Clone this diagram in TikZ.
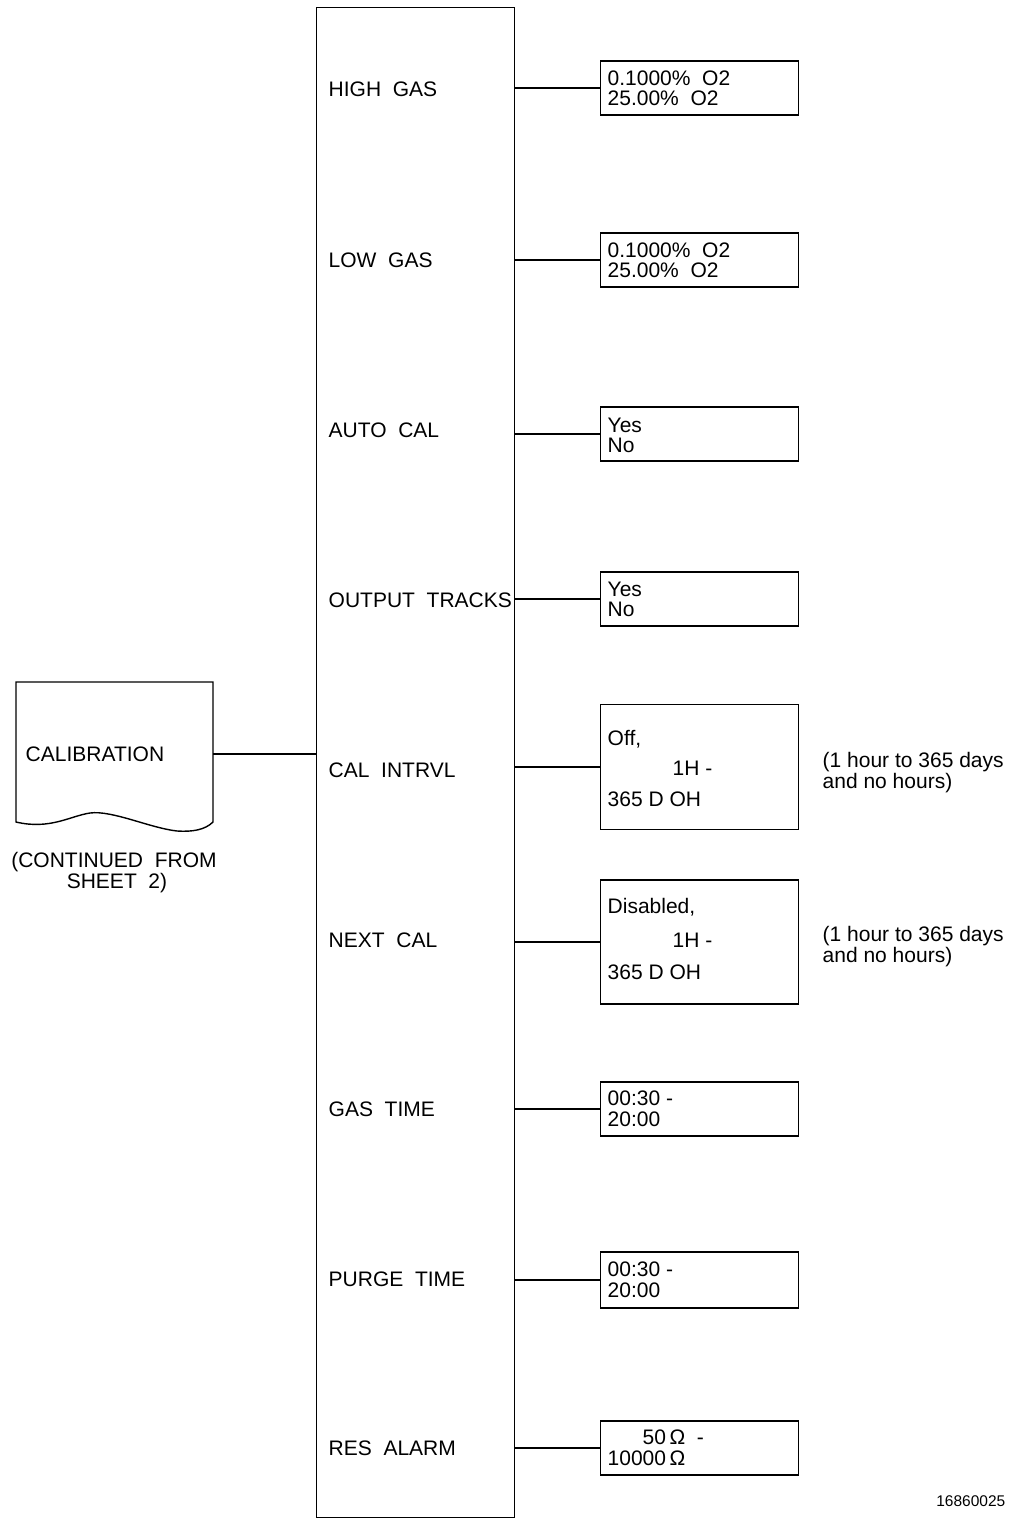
\documentclass[tikz,border=0pt]{standalone}
\usepackage{fontspec}
\setmainfont{Liberation Sans}
\begin{document}
\begin{tikzpicture}[x=1pt,y=-1pt,line width=1.4pt,
  vbox/.style={draw,minimum width=198pt,minimum height=#1,inner sep=0pt,anchor=west},
  txt/.style={inner sep=0pt,anchor=base west,font=\fontsize{21}{21}\selectfont},
  ctxt/.style={inner sep=0pt,anchor=base,font=\fontsize{21}{21}\selectfont},
  small/.style={inner sep=0pt,anchor=base east,font=\fontsize{15.5}{15.5}\selectfont},
  conn/.style={draw,line width=1.4pt}]
\useasboundingbox (0,0) rectangle (1010,1518);

% main menu box
\node[draw,minimum width=198pt,minimum height=1510pt,inner sep=0pt,anchor=north west] (menu) at (316,7) {};

% labels
\node[txt] (l1) at (328,96) {HIGH\ \ GAS};
\node[txt] (l2) at (328,267) {LOW\ \ GAS};
\node[txt] (l3) at (328,437) {AUTO\ \ CAL};
\node[txt] (l4) at (328,607) {OUTPUT\ \ TRACKS};
\node[txt] (l5) at (328,777) {CAL\ \ INTRVL};
\node[txt] (l6) at (328,947) {NEXT\ \ CAL};
\node[txt] (l7) at (328,1116) {GAS\ \ TIME};
\node[txt] (l8) at (328,1286) {PURGE\ \ TIME};
\node[txt] (l9) at (328,1455) {RES\ \ ALARM};

% value boxes
\node[vbox=54pt] (v1) at (600,88) {};
\node[vbox=54pt] (v2) at (600,260) {};
\node[vbox=54pt] (v3) at (600,434) {};
\node[vbox=54pt] (v4) at (600,599) {};
\node[vbox=125pt] (v5) at (600,767) {};
\node[vbox=124pt] (v6) at (600,942) {};
\node[vbox=54pt] (v7) at (600,1109) {};
\node[vbox=56pt] (v8) at (600,1280) {};
\node[vbox=54pt] (v9) at (600,1448) {};

% value texts
\node[txt] (t1a) at (607,85) {0.1000\%\ \ O2};
\node[txt] (t1b) at (607,105.5) {25.00\%\ \ O2};
\node[txt] (t2a) at (607,257) {0.1000\%\ \ O2};
\node[txt] (t2b) at (607,277.5) {25.00\%\ \ O2};
\node[txt] (t3a) at (607,432) {Yes};
\node[txt] (t3b) at (607,452.5) {No};
\node[txt] (t4a) at (607,596) {Yes};
\node[txt] (t4b) at (607,616.5) {No};
\node[txt] (t5a) at (607,745) {Off,};
\node[txt] (t5b) at (672,775) {1H -};
\node[txt] (t5c) at (607,806) {365 D OH};
\node[txt] (t6a) at (607,913) {Disabled,};
\node[txt] (t6b) at (672,947) {1H -};
\node[txt] (t6c) at (607,979) {365 D OH};
\node[txt] (t7a) at (607,1105) {00:30 -};
\node[txt] (t7b) at (607,1126.5) {20:00};
\node[txt] (t8a) at (607,1276) {00:30 -};
\node[txt] (t8b) at (607,1297.5) {20:00};
\node[txt] (t9a) at (642,1444.5) {50\,Ω\ \ -};
\node[txt] (t9b) at (607,1465.5) {10000\,Ω};

% connectors
\foreach \i in {1,...,9} {
  \draw[conn] (menu.east |- v\i.west) -- (v\i.west);
}

% notes
\node[txt] (n1a) at (822,767) {(1 hour to 365 days};
\node[txt] (n1b) at (822,788) {and no hours)};
\node[txt] (n2a) at (822,941) {(1 hour to 365 days};
\node[txt] (n2b) at (822,962) {and no hours)};

% calibration document shape
\draw (16,822) -- (16,682) -- (213,682) -- (213,822)
  .. controls (205,830) and (192,832) .. (177,831)
  .. controls (150,828) and (112,810) .. (90,813)
  .. controls (70,816) and (50,830) .. (16,822) -- cycle;
\node[txt] (cal) at (25,761) {CALIBRATION};
\coordinate (calR) at (213,754);
\draw[conn] (calR) -- (menu.west |- calR);
\node[ctxt] (cont1) at (114,867) {(CONTINUED\ \ FROM};
\node[ctxt] (cont2) at (117,888) {SHEET\ \ 2)};

\node[small] (num) at (1006,1506) {16860025};
\end{tikzpicture}
\end{document}
